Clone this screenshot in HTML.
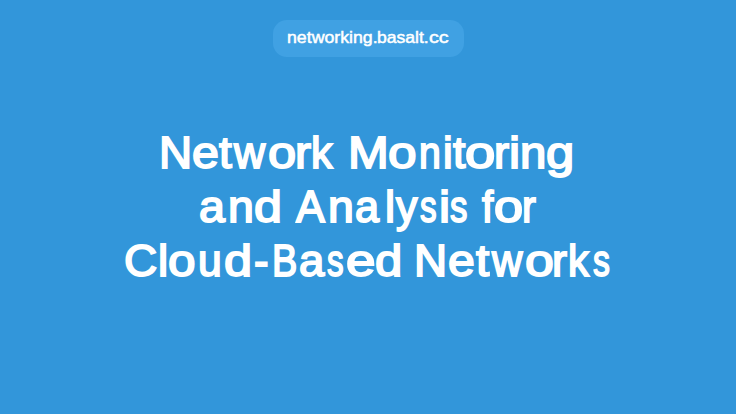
<!DOCTYPE html>
<html><head><meta charset="utf-8">
<style>
html,body{margin:0;padding:0;}
body{width:736px;height:414px;background:#3296da;position:relative;overflow:hidden;font-family:"Liberation Sans",sans-serif;color:#fff;}
.pill{position:absolute;left:273px;top:20px;width:191px;height:37px;border-radius:14px;background:#40a1e3;}
.site{position:absolute;left:0;width:736px;height:20px;top:27.90px;font-weight:normal;font-size:17px;line-height:20px;white-space:nowrap;-webkit-text-stroke:0.5px #fff;}
.site span{position:absolute;top:0;transform-origin:0 0;}
.l{position:absolute;left:0;width:736px;height:54px;font-weight:normal;font-size:44.3px;line-height:54px;white-space:nowrap;-webkit-text-stroke:1.8px #fff;}
.l i{position:absolute;top:0;font-style:normal;transform-origin:0 0;}
</style></head><body>
<div class="pill"></div>
<div class="site"><span style="left:286.66px;transform:scaleX(1.0424)">networking.</span><span style="left:376.87px;transform:scaleX(1.0333)">basalt.</span><span style="left:428.90px;transform:scaleX(1.1588)">cc</span></div>
<div class="l" style="top:126.07px"><i style="left:158.60px;transform:scaleX(1.035)">N</i><i style="left:191.71px;transform:scaleX(1.091)">e</i><i style="left:219.10px;transform:scaleX(1.038)">t</i><i style="left:234.17px;transform:scaleX(0.974)">w</i><i style="left:268.26px;transform:scaleX(1.143)">o</i><i style="left:295.33px;transform:scaleX(1.085)">r</i><i style="left:311.45px;transform:scaleX(0.973)">k</i><i style="left:347.59px;transform:scaleX(1.103)">M</i><i style="left:387.74px;transform:scaleX(1.161)">o</i><i style="left:419.23px;transform:scaleX(0.886)">n</i><i style="left:442.53px;transform:scaleX(0.983)">i</i><i style="left:452.60px;transform:scaleX(1.008)">t</i><i style="left:465.47px;transform:scaleX(1.230)">o</i><i style="left:494.35px;transform:scaleX(1.023)">r</i><i style="left:508.67px;transform:scaleX(1.117)">i</i><i style="left:520.27px;transform:scaleX(1.067)">n</i><i style="left:546.05px;transform:scaleX(1.145)">g</i></div>
<div class="l" style="top:179.80px"><i style="left:198.85px;transform:scaleX(1.052)">a</i><i style="left:228.40px;transform:scaleX(1.048)">n</i><i style="left:254.37px;transform:scaleX(1.132)">d</i><i style="left:296.48px;transform:scaleX(0.975)">A</i><i style="left:327.60px;transform:scaleX(1.048)">n</i><i style="left:355.02px;transform:scaleX(0.976)">a</i><i style="left:384.57px;transform:scaleX(1.017)">l</i><i style="left:396.07px;transform:scaleX(0.967)">y</i><i style="left:420.20px;transform:scaleX(0.750)">s</i><i style="left:438.77px;transform:scaleX(1.117)">i</i><i style="left:450.10px;transform:scaleX(0.786)">s</i><i style="left:481.80px;transform:scaleX(0.915)">f</i><i style="left:493.62px;transform:scaleX(1.183)">o</i><i style="left:521.72px;transform:scaleX(0.938)">r</i></div>
<div class="l" style="top:234.00px"><i style="left:124.46px;transform:scaleX(1.040)">C</i><i style="left:158.23px;transform:scaleX(1.033)">l</i><i style="left:167.78px;transform:scaleX(1.117)">o</i><i style="left:197.58px;transform:scaleX(0.962)">u</i><i style="left:224.06px;transform:scaleX(1.136)">d</i><i style="left:253.52px;transform:scaleX(0.985)">-</i><i style="left:271.53px;transform:scaleX(0.856)">B</i><i style="left:298.77px;transform:scaleX(1.028)">a</i><i style="left:327.30px;transform:scaleX(0.750)">s</i><i style="left:345.50px;transform:scaleX(1.200)">e</i><i style="left:374.70px;transform:scaleX(1.105)">d</i><i style="left:414.40px;transform:scaleX(1.035)">N</i><i style="left:447.61px;transform:scaleX(1.087)">e</i><i style="left:476.20px;transform:scaleX(1.077)">t</i><i style="left:492.45px;transform:scaleX(0.950)">w</i><i style="left:525.13px;transform:scaleX(1.170)">o</i><i style="left:552.47px;transform:scaleX(1.015)">r</i><i style="left:567.61px;transform:scaleX(0.945)">k</i><i style="left:593.20px;transform:scaleX(0.764)">s</i></div>
</body></html>
